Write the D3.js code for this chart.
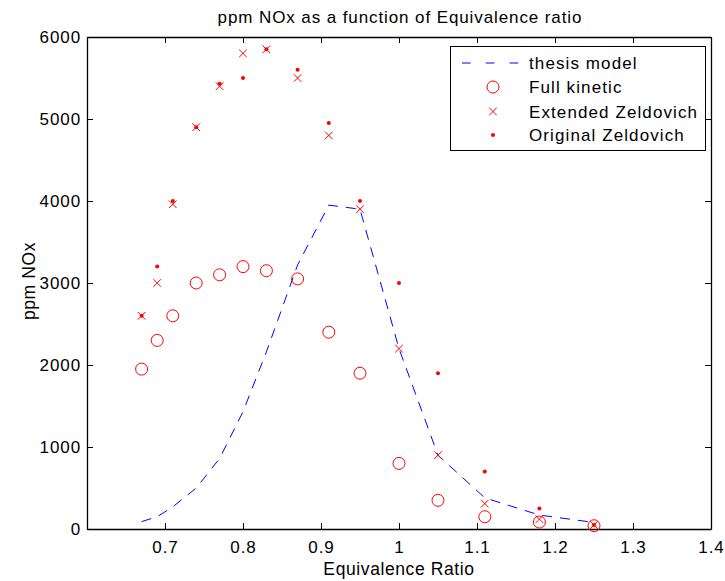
<!DOCTYPE html>
<html><head><meta charset="utf-8">
<script src="https://cdn.jsdelivr.net/npm/d3@7"></script>
<style>body{margin:0;background:#fff;} text{font-family:"Liberation Sans",Arial,sans-serif;}</style>
</head><body><svg id="c" width="725" height="581"></svg>
<script>
const phi = [0.67,0.69,0.71,0.74,0.77,0.80,0.83,0.87,0.91,0.95,1.00,1.05,1.11,1.18,1.25];
const thesisModel = [90,150,270,500,860,1430,2160,3220,3950,3900,2200,900,380,170,80];
const fullKinetic = [1950,2300,2600,3000,3100,3200,3150,3050,2400,1900,800,350,150,85,40];
const extendedZeldovich = [2600,3000,3960,4900,5400,5800,5850,5500,4800,3900,2200,900,310,120,50];
const originalZeldovich = [2600,3200,4000,4900,5430,5500,5850,5600,4950,4000,3000,1900,700,250,50];
const xTicks = [0.7,0.8,0.9,1,1.1,1.2,1.3,1.4];
const yTicks = [0,1000,2000,3000,4000,5000,6000];
const legendLabels = ["thesis model","Full kinetic","Extended Zeldovich","Original Zeldovich"];

const svg = d3.select("#c");
const L=87,R=711,T=37,B=529;
const x = d3.scaleLinear().domain([0.6,1.4]).range([L,R]);
const y = d3.scaleLinear().domain([0,6000]).range([B,T]);
const red="#ff0000", blue="#0000ff";
const FS=17, LS="0.9px";

const fmt = d => String(d);
svg.append("g").attr("transform",`translate(0,${B})`)
  .call(d3.axisBottom(x).tickValues(xTicks).tickSizeInner(-6).tickSizeOuter(0).tickPadding(12).tickFormat(fmt));
svg.append("g").attr("transform",`translate(0,${T})`)
  .call(d3.axisTop(x).tickValues(xTicks).tickSizeInner(-6).tickSizeOuter(0).tickFormat(""));
svg.append("g").attr("transform",`translate(${L},0)`)
  .call(d3.axisLeft(y).tickValues(yTicks).tickSizeInner(-6).tickSizeOuter(0).tickPadding(6).tickFormat(fmt));
svg.append("g").attr("transform",`translate(${R},0)`)
  .call(d3.axisRight(y).tickValues(yTicks).tickSizeInner(-6).tickSizeOuter(0).tickFormat(""));
svg.selectAll(".domain").attr("stroke","#000").attr("stroke-width",1.3);
svg.selectAll(".tick line").attr("stroke","#000").attr("stroke-width",1);
svg.selectAll(".tick text").attr("font-size",FS).attr("letter-spacing",LS).attr("fill","#000")
  .attr("font-family","Liberation Sans, Arial, sans-serif");

const line = d3.line().x((d,i)=>x(phi[i])).y(d=>y(d));
svg.append("path").datum(thesisModel).attr("d",line).attr("fill","none")
  .attr("stroke",blue).attr("stroke-width",1).attr("stroke-dasharray","10,8");

const pts = (arr)=>arr.map((v,i)=>({x:phi[i],y:v}));
svg.append("g").selectAll("circle").data(pts(fullKinetic)).join("circle")
  .attr("cx",d=>x(d.x)).attr("cy",d=>y(d.y)).attr("r",6)
  .attr("fill","none").attr("stroke",red).attr("stroke-width",1);
const xs=3.8;
svg.append("g").selectAll("path").data(pts(extendedZeldovich)).join("path")
  .attr("d",d=>{const cx=x(d.x),cy=y(d.y);return `M${cx-xs},${cy-xs}L${cx+xs},${cy+xs}M${cx-xs},${cy+xs}L${cx+xs},${cy-xs}`;})
  .attr("stroke",red).attr("stroke-width",1).attr("fill","none");
svg.append("g").selectAll("circle").data(pts(originalZeldovich)).join("circle")
  .attr("cx",d=>x(d.x)).attr("cy",d=>y(d.y)).attr("r",2).attr("fill",red);

svg.append("text").attr("x",(L+R)/2+1).attr("y",23).attr("text-anchor","middle")
  .attr("font-size",FS).attr("letter-spacing",LS).text("ppm NOx as a function of Equivalence ratio");
svg.append("text").attr("x",(L+R)/2).attr("y",575).attr("text-anchor","middle")
  .attr("font-size",17.5).attr("letter-spacing","0.6px").text("Equivalence Ratio");
svg.append("text").attr("transform",`translate(35,${(T+B)/2 - 2}) rotate(-90)`).attr("text-anchor","middle")
  .attr("font-size",17.5).attr("letter-spacing","0.6px").text("ppm NOx");

const lg = svg.append("g");
lg.append("rect").attr("x",450.5).attr("y",46.5).attr("width",255).attr("height",104)
  .attr("fill","#fff").attr("stroke","#000").attr("stroke-width",1);
const rowsY=[63,87,111.5,135];
const mx=493;
lg.append("line").attr("x1",462).attr("x2",521).attr("y1",rowsY[0]).attr("y2",rowsY[0])
  .attr("stroke",blue).attr("stroke-width",1).attr("stroke-dasharray","8.6,15.2");
lg.append("circle").attr("cx",mx).attr("cy",rowsY[1]).attr("r",6).attr("fill","none").attr("stroke",red);
lg.append("path").attr("d",`M${mx-xs},${rowsY[2]-xs}L${mx+xs},${rowsY[2]+xs}M${mx-xs},${rowsY[2]+xs}L${mx+xs},${rowsY[2]-xs}`)
  .attr("stroke",red).attr("fill","none");
lg.append("circle").attr("cx",mx).attr("cy",rowsY[3]).attr("r",2).attr("fill",red);
lg.selectAll("text.l").data(legendLabels).join("text").attr("class","l")
  .attr("x",529).attr("y",(d,i)=>rowsY[i]+6).attr("font-size",FS).attr("letter-spacing","1.1px").text(d=>d);
</script></body></html>
